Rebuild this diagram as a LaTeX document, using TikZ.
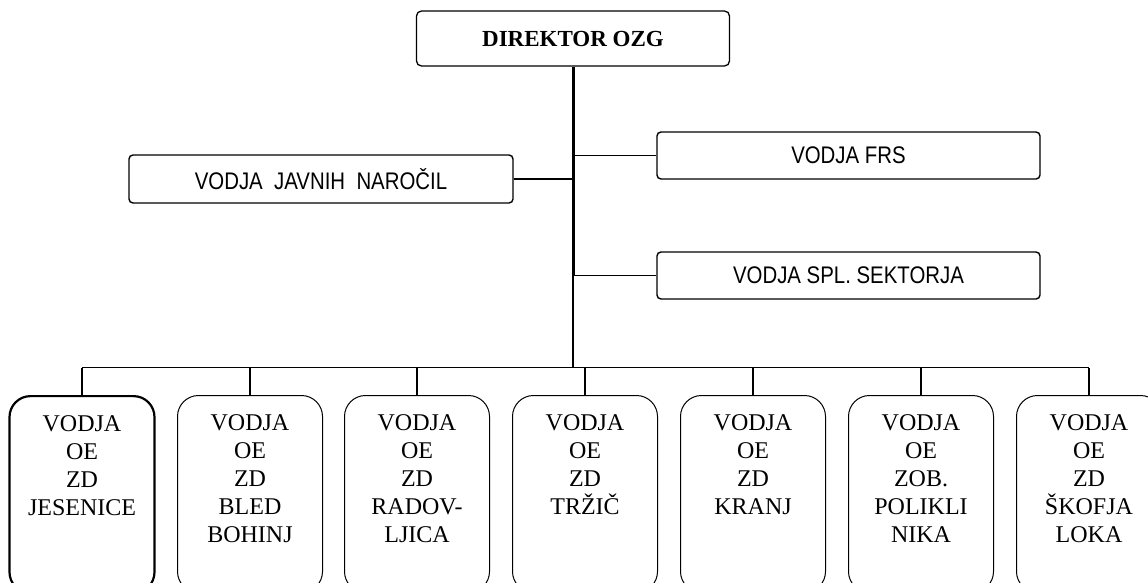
\documentclass[tikz,border=0pt]{standalone}
\usepackage{fontspec}
\setmainfont{Liberation Serif}
\newfontfamily\narrowsans[FakeStretch=0.85]{Liberation Sans}
\usetikzlibrary{positioning}

\tikzset{
  headbox/.style={draw, line width=1.3pt, rounded corners=5pt, minimum width=313pt, minimum height=55pt, font=\fontsize{23}{28}\selectfont\bfseries},
  staffbox/.style={draw, line width=1.4pt, rounded corners=4pt, minimum width=384pt, minimum height=48pt, font=\narrowsans\fontsize{24}{28}\selectfont},
  oebox/.style={draw, line width=1pt, rounded corners=21pt, inner sep=0pt, anchor=north, font=\fontsize{24}{28}\selectfont},
  link/.style={line width=1.4pt},
}
\newcommand{\oetext}[1]{\parbox[t][197pt][t]{145pt}{\centering\rule{0pt}{35pt}#1}}

\begin{document}
\begin{tikzpicture}[x=1pt,y=-1pt]
  \clip (0,0) rectangle (1148,582);
  \node[headbox] (dir) at (573,38.5) {DIREKTOR OZG};
  \node[staffbox] (jn) at (321,179) {VODJA\ \ JAVNIH\ \ NAROČIL};
  \node[staffbox, minimum width=383pt, minimum height=47pt] (frs) at (848.5,155.5) {VODJA FRS};
  \node[staffbox, minimum width=383pt, minimum height=47pt] (spl) at (848.5,275.5) {VODJA SPL. SEKTORJA};
  \coordinate (bus) at (573,367.5);

  \foreach \i/\cx/\w/\txt in {1/82/2.2/{VODJA\\OE\\ZD\\JESENICE},
                              2/250/1/{VODJA\\OE\\ZD\\BLED\\BOHINJ},
                              3/417/1/{VODJA\\OE\\ZD\\RADOV-\\LJICA},
                              4/585/1/{VODJA\\OE\\ZD\\TRŽIČ},
                              5/753/1/{VODJA\\OE\\ZD\\KRANJ},
                              6/921/1/{VODJA\\OE\\ZOB.\\POLIKLI\\NIKA},
                              7/1089/1/{VODJA\\OE\\ZD\\ŠKOFJA\\LOKA}}
    \node[oebox, line width=\w pt] (oe\i) at (\cx,395) {\oetext{\txt}};

  \draw[line width=3pt] (dir.south) -- (dir.south |- spl.west);
  \draw[link] (dir.south |- spl.west) -- (bus);
  \draw[link] (jn.east) -- (dir.south |- jn.east);
  \draw[link] (dir.south |- frs.west) -- (frs.west);
  \draw[link] (dir.south |- spl.west) -- (spl.west);
  \draw[link] (oe1.north |- bus) -- (oe7.north |- bus);
  \foreach \i in {1,...,7}
    \draw[link] (oe\i.north) -- (oe\i.north |- bus);
\end{tikzpicture}
\end{document}
